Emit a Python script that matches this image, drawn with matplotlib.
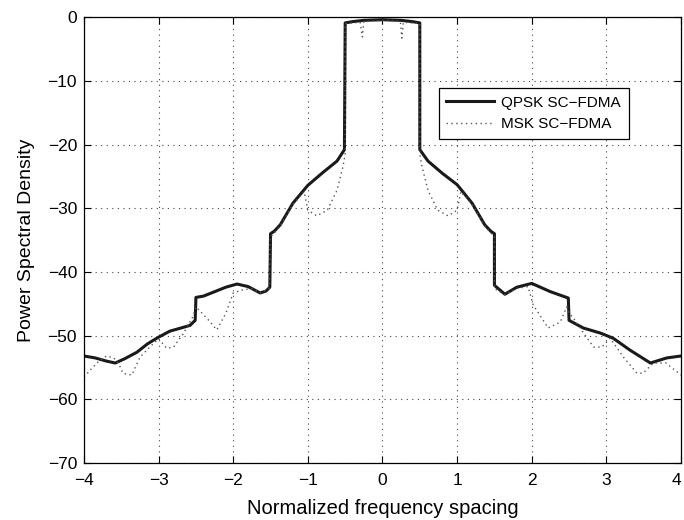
import matplotlib
matplotlib.use("Agg")
import matplotlib.pyplot as plt
import matplotlib.transforms as mtransforms

plt.rcParams['font.family'] = ['Liberation Sans', 'DejaVu Sans']

## QPSK SC-FDMA power spectral density
qpsk_x = [-4.00, -3.85, -3.70, -3.58, -3.45, -3.29, -3.15, -3.01, -2.85, -2.70,
          -2.58, -2.51, -2.50, -2.40, -2.27, -2.10, -1.95, -1.80, -1.64, -1.56,
          -1.51, -1.50, -1.45, -1.37, -1.20, -1.00, -0.80, -0.61, -0.51, -0.50,
          -0.40, -0.25, 0.00, 0.25, 0.40, 0.50,
          0.50, 0.61, 0.80, 1.00, 1.20, 1.37, 1.45, 1.50, 1.50, 1.64,
          1.80, 2.00, 2.25, 2.49, 2.50, 2.69, 2.92, 3.09, 3.32, 3.59,
          3.81, 4.00]
qpsk_y = [-53.2, -53.5, -54.0, -54.3, -53.6, -52.6, -51.3, -50.3, -49.3, -48.8,
          -48.4, -47.6, -44.0, -43.8, -43.2, -42.4, -41.9, -42.3, -43.3, -43.0,
          -42.4, -34.0, -33.6, -32.6, -29.2, -26.4, -24.4, -22.6, -20.8, -0.9,
          -0.7, -0.5, -0.4, -0.5, -0.7, -0.9,
          -20.8, -22.6, -24.5, -26.3, -29.2, -32.6, -33.6, -34.0, -42.1, -43.5,
          -42.4, -41.8, -43.1, -44.1, -47.6, -48.8, -49.6, -50.4, -52.3, -54.3,
          -53.5, -53.2]

## MSK SC-FDMA power spectral density
msk_x = [-4.00, -3.90, -3.80, -3.70, -3.60, -3.53, -3.48, -3.36, -3.25, -3.12,
         -3.00, -2.89, -2.80, -2.67, -2.54, -2.50, -2.35, -2.22, -2.10, -2.00,
         -1.87, -1.75, -1.64, -1.52, -1.50, -1.37, -1.20, -1.05, -1.00, -0.88,
         -0.74, -0.61, -0.53, -0.50, -0.50, -0.30, -0.27, -0.25, 0.00, 0.24,
         0.26, 0.28, 0.50, 0.50, 0.53, 0.61, 0.74, 0.88, 1.00, 1.05,
         1.20, 1.37, 1.50, 1.50, 1.64, 1.80, 1.95, 2.02, 2.22, 2.38,
         2.47, 2.50, 2.55, 2.70, 2.83, 2.94, 3.05, 3.23, 3.41, 3.49,
         3.63, 3.80, 4.00]
msk_y = [-56.5, -55.2, -54.0, -53.2, -53.5, -54.5, -55.9, -56.2, -53.4, -51.8,
         -50.5, -52.0, -51.8, -49.7, -47.0, -45.5, -47.3, -49.1, -46.5, -43.3,
         -42.8, -42.6, -43.3, -42.6, -34.5, -32.8, -29.4, -27.4, -30.3, -31.2,
         -30.3, -27.2, -23.5, -21.5, -1.0, -0.8, -3.1, -0.7, -0.5, -0.7,
         -3.3, -0.8, -1.0, -21.5, -23.5, -27.2, -30.3, -31.2, -30.3, -27.4,
         -29.4, -32.8, -34.5, -42.6, -43.6, -42.6, -42.3, -45.2, -48.8, -47.9,
         -45.5, -46.5, -47.1, -49.7, -51.8, -51.8, -50.4, -53.4, -55.9, -55.9,
         -54.3, -54.3, -56.2]

fig = plt.figure(figsize=(6.84, 5.2), dpi=100)
ax = fig.add_axes([0.1228, 0.1096, 0.8728, 0.8574])

ax.plot(qpsk_x, qpsk_y, color='#1a1a1a', linewidth=2.2, label='QPSK SC\u2212FDMA')
ax.plot(msk_x, msk_y, color='#555555', linewidth=1.0, linestyle=(0, (1, 2.5)),
        label='MSK SC\u2212FDMA')

ax.set_xlim(-4, 4)
ax.set_ylim(-70, 0)
ax.set_xticks(range(-4, 5))
ax.set_yticks(range(-70, 1, 10))
ax.tick_params(direction='in', top=True, right=True, labelsize=12.5, length=5, width=0.8)
ax.tick_params(axis='x', pad=7)
ax.tick_params(axis='y', pad=5)
ax.grid(True, color='#444444', linestyle=(0, (1, 4)), linewidth=0.8)
for s in ax.spines.values():
    s.set_linewidth(0.9)

## the last x tick label sits on the figure edge, pull it in a little
lab = ax.get_xticklabels()[-1]
lab.set_transform(lab.get_transform() + mtransforms.ScaledTranslation(-5 / 100, 0, fig.dpi_scale_trans))

ax.set_xlabel('Normalized frequency spacing', fontsize=14.5, labelpad=8)
ax.set_ylabel('Power Spectral Density', fontsize=14, labelpad=9)

leg = ax.legend(loc='upper left', bbox_to_anchor=(0.594, 0.841), fontsize=11,
                fancybox=False, framealpha=1, edgecolor='black',
                handlelength=3.1, handletextpad=0.5, borderpad=0.5,
                labelspacing=0.5, borderaxespad=0)
leg.get_frame().set_linewidth(0.9)

fig.savefig('out.png', dpi=100)
